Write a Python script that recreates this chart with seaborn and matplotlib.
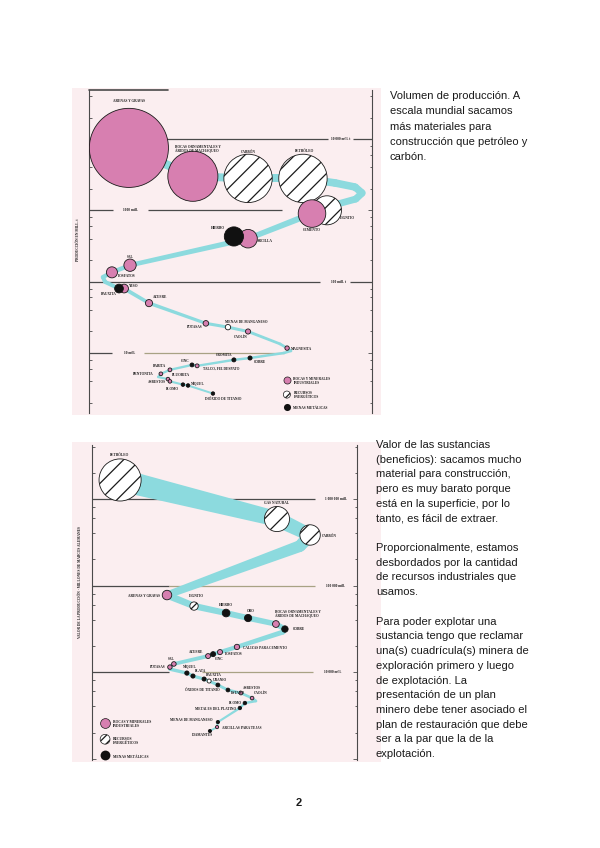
"""Página 2: volumen y valor de la producción minera mundial (dos paneles + texto)."""

import matplotlib
matplotlib.use("Agg")
import matplotlib.pyplot as plt
import numpy as np
import pandas as pd
import seaborn as sns
from matplotlib.ticker import LogLocator, NullFormatter

# ──────────────────────────────────────────────
# Datos – panel 1: volumen de producción (mill. t)
# ──────────────────────────────────────────────
p1_names = [
    "ARENAS Y GRAVAS", "ROCAS ORNAMENTALES Y\nÁRIDOS DE MACHAQUEO", "CARBÓN", "PETRÓLEO",
    "LIGNITO", "CEMENTO", "HIERRO", "ARCILLA", "SAL", "FOSFATOS", "BAUXITA", "YESO",
    "AZUFRE", "POTASAS", "MENAS DE MANGANESO", "CAOLÍN", "MAGNESITA", "COBRE", "CROMITA",
    "TALCO, FELDESPATO", "CINC", "BARITA", "BENTONITA", "FLUORITA", "ASBESTOS", "PLOMO",
    "NÍQUEL", "DIÓXIDO DE TITANIO",
]
p1_x = [14.1, 36.7, 56.2, 75.6, 84.1, 78.8, 51.2, 56.2, 14.5, 8.1, 10.6, 12.4, 21.2, 41.3,
        49.1, 56.2, 70.0, 56.9, 51.2, 38.2, 36.4, 28.6, 25.4, 27.9, 28.6, 33.2, 35.0, 43.8]
p1_value = [7500, 3000, 2800, 2800, 1000, 900, 430, 400, 170, 135, 80, 80, 50, 26, 23, 20,
            11.7, 8.5, 8.0, 6.6, 6.8, 5.8, 5.1, 4.3, 4.0, 3.6, 3.5, 2.7]
p1_group = ["R", "R", "E", "E", "E", "R", "M", "R", "R", "R", "M", "R", "R", "R", "E", "R",
            "R", "M", "M", "R", "M", "R", "R", "R", "R", "M", "M", "M"]

# recorrido de la banda (incluye los puntos de giro)
p1_track_x = [14.1, 36.7, 56.2, 75.6, 86.9, 94.0, 96.5, 94.3, 88.0, 84.1, 78.8, 56.2, 14.5,
              8.1, 4.9, 5.7, 10.6, 12.4, 21.2, 41.3, 49.1, 56.2, 67.5, 70.0, 71.4, 68.9,
              56.9, 51.2, 38.2, 36.4, 28.6, 25.4, 24.4, 27.9, 28.6, 33.2, 35.0, 43.8]
p1_track_value = [7500, 3000, 2800, 2800, 2420, 2120, 1750, 1440, 1230, 1000, 900, 400, 170,
                  135, 116, 99, 80, 80, 50, 26, 23, 20, 13.4, 11.7, 10.7, 10.0,
                  8.5, 8.0, 6.6, 6.8, 5.8, 5.1, 4.6, 4.3, 4.0, 3.6, 3.5, 2.7]

p1_levels = [10000, 1000, 100, 10]
p1_level_labels = ["10 000 mill. t", "1000 mill.", "100 mill. t", "10 mill."]

# ──────────────────────────────────────────────
# Datos – panel 2: valor de la producción (mill. DM)
# ──────────────────────────────────────────────
p2_names = [
    "PETRÓLEO", "GAS NATURAL", "CARBÓN", "ARENAS Y GRAVAS", "LIGNITO", "HIERRO", "ORO",
    "ROCAS ORNAMENTALES Y\nÁRIDOS DE MACHAQUEO", "COBRE", "CALIZAS PARA CEMENTO", "FOSFATOS",
    "CINC", "AZUFRE", "SAL", "POTASAS", "NÍQUEL", "PLATA", "BAUXITA", "URANIO",
    "ÓXIDOS DE TITANIO", "ESTAÑO", "ASBESTOS", "CAOLÍN", "PLOMO", "METALES DEL PLATINO",
    "MENAS DE MANGANESO", "ARCILLAS PARA TEJAS", "DIAMANTES",
]
p2_x = [10.6, 69.8, 82.3, 28.3, 38.5, 50.6, 58.9, 69.4, 72.8, 54.7, 48.3, 45.7, 43.8, 30.9,
        29.4, 35.8, 38.1, 42.3, 44.2, 47.5, 51.3, 56.2, 60.4, 57.7, 55.8, 47.5, 47.2, 44.5]
p2_value = [1.66e6, 5.87e5, 3.84e5, 7.76e4, 5.79e4, 4.81e4, 4.21e4, 3.59e4, 3.14e4, 1.95e4,
            1.70e4, 1.61e4, 1.53e4, 1.24e4, 1.14e4, 9730, 8990, 8300, 7870, 7080, 6200,
            5720, 5000, 4380, 3840, 2640, 2310, 2080]
p2_group = ["E", "E", "E", "R", "E", "M", "M", "R", "M", "R", "R", "M", "R", "R", "R", "M",
            "M", "M", "E", "M", "M", "R", "R", "M", "M", "M", "R", "M"]

p2_track_x = [10.6, 69.8, 82.3, 78.5, 28.3, 38.5, 50.6, 58.9, 69.4, 72.8, 72.1, 54.7, 48.3,
              45.7, 43.8, 30.9, 29.4, 29.4, 35.8, 38.1, 42.3, 44.2, 47.5, 51.3, 56.2, 60.4,
              61.9, 57.7, 55.8, 47.5, 47.2, 44.5]
p2_track_value = [1.66e6, 5.87e5, 3.84e5, 2.86e5, 7.76e4, 5.79e4, 4.81e4, 4.21e4, 3.59e4,
                  3.14e4, 2.90e4, 1.95e4, 1.70e4, 1.61e4, 1.53e4, 1.24e4, 1.14e4, 1.08e4,
                  9730, 8990, 8300, 7870, 7080, 6200, 5720, 5000, 4620, 4380, 3840, 2640,
                  2310, 2080]

p2_levels = [1e6, 1e5, 1e4]
p2_level_labels = ["1 000 000 mill.", "100 000 mill.", "10 000 mill."]

legend_labels = ["ROCAS Y MINERALES\nINDUSTRIALES", "RECURSOS\nENERGÉTICOS", "MENAS METÁLICAS"]

TEXT_1 = ("Volumen de producción. A\nescala mundial sacamos\nmás materiales para\n"
          "construcción que petróleo y\ncarbón.")
TEXT_2 = ("Valor de las sustancias\n(beneficios): sacamos mucho\nmaterial para construcción,\n"
          "pero es muy barato porque\nestá en la superficie, por lo\ntanto, es fácil de extraer.\n"
          "\nProporcionalmente, estamos\ndesbordados por la cantidad\nde recursos industriales que\n"
          "usamos.\n\nPara poder explotar una\nsustancia tengo que reclamar\n"
          "una(s) cuadrícula(s) minera de\nexploración primero y luego\nde explotación. La\n"
          "presentación de un plan\nminero debe tener asociado el\nplan de restauración que debe\n"
          "ser a la par que la de la\nexplotación.")

# ──────────────────────────────────────────────
# Estilo
# ──────────────────────────────────────────────
PINK = "#d77fb0"
PAPER = "#fbeef0"
BAND = "#8cdade"
DARK = "#4a4a4a"
OLIVE = "#a8a284"
PX = 72 / 100  # puntos por píxel (dpi = 100)
SMALL = dict(fontsize=2.5, fontweight="bold", family=["Liberation Serif", "DejaVu Serif"],
             color="#1a1a1a")

GROUP_STYLE = {
    "E": dict(color="white", edgecolor="#1a1a1a", linewidth=0.6, hatch="//", zorder=3),
    "R": dict(color=PINK, edgecolor="#1a1a1a", linewidth=0.6, zorder=4),
    "M": dict(color="#111111", edgecolor="#111111", linewidth=0.6, zorder=5),
}

# desplazamiento de etiquetas (px) y alineación
p1_label_pos = [(0, 47, "center"), (-18, 27, "left"), (0, 26, "center"), (2, 27, "center"),
                (13, -8, "left"), (0, -16, "center"), (-9, 8, "right"), (9, -2, "left"),
                (0, 8, "center"), (6, -4, "left"), (-2, -5, "right"), (5, 3, "left"),
                (4, 6, "left"), (-3, -4, "right"), (-3, 5, "left"), (-7, -6, "center"),
                (4, -1, "left"), (4, -4, "left"), (-2, 5, "right"), (6, -3, "left"),
                (-3, 4, "right"), (-4, 4, "right"), (-7, 0, "right"), (4, 4, "left"),
                (-4, -1, "right"), (-4, -4, "right"), (3, 1, "left"), (10, -5, "center")]
p2_label_pos = [(-1, 25, "center"), (0, 16, "center"), (12, -1, "left"), (-7, -1, "right"),
                (2, 10, "center"), (0, 8, "center"), (3, 7, "center"), (-1, 10, "left"),
                (8, 0, "left"), (6, -1, "left"), (5, -2, "left"), (2, -5, "left"),
                (-5, 4, "right"), (-3, 5, "center"), (-4, 0, "right"), (3, 6, "center"),
                (2, 5, "left"), (2, 4, "left"), (4, 1, "left"), (2, -5, "right"),
                (3, -3, "left"), (2, 5, "left"), (2, 5, "left"), (-3, 0, "right"),
                (-4, -1, "right"), (-5, 2, "right"), (5, -1, "left"), (-7, -4, "center")]


def setup_axes(ax, ylim):
    ax.set_facecolor("none")
    ax.set_yscale("log")
    ax.set_xlim(0, 100)
    ax.set_ylim(*ylim)
    ax.yaxis.set_major_locator(LogLocator(base=10))
    ax.yaxis.set_minor_locator(LogLocator(base=10, subs=(2, 4, 6, 8)))
    ax.yaxis.set_major_formatter(NullFormatter())
    ax.yaxis.set_minor_formatter(NullFormatter())
    ax.tick_params(axis="y", which="both", direction="in", left=True, right=True,
                   color=DARK, width=0.6)
    ax.tick_params(axis="y", which="major", length=3.2)
    ax.tick_params(axis="y", which="minor", length=1.8)
    ax.tick_params(axis="x", bottom=False, labelbottom=False)
    for side in ("top", "bottom"):
        ax.spines[side].set_visible(False)
    for side in ("left", "right"):
        ax.spines[side].set_color(DARK)
        ax.spines[side].set_linewidth(0.8)


def draw_levels(ax, levels, labels, segs, label_x):
    for lev, lab, seg, lx in zip(levels, labels, segs, label_x):
        for x0, x1, c in seg:
            ax.hlines(lev, x0, x1, color=c, lw=0.9, zorder=1)
        ax.text(lx, lev, lab, ha="center", va="center", zorder=1, **SMALL)


def draw_band(ax, xs, vals, k, p):
    """Banda de ancho variable (ancho en puntos = k * valor**p)."""
    vals = np.asarray(vals, dtype=float)
    w = k * vals ** p
    pts = ax.transData.transform(np.column_stack([xs, vals]))
    half = w / PX / 2
    inv = ax.transData.inverted()
    for i in range(len(xs) - 1):
        d = pts[i + 1] - pts[i]
        n = np.array([-d[1], d[0]]) / np.hypot(*d)
        quad = np.array([pts[i] + n * half[i], pts[i + 1] + n * half[i + 1],
                         pts[i + 1] - n * half[i + 1], pts[i] - n * half[i]])
        qx, qy = inv.transform(quad).T
        ax.fill(qx, qy, color=BAND, lw=0, zorder=2)
    ax.scatter(xs, vals, s=w ** 2, color=BAND, linewidths=0, zorder=2)


def draw_bubbles(ax, names, xs, values, groups, sizes, vmax, label_pos):
    df = pd.DataFrame({"name": names, "x": xs, "value": values, "group": groups})
    for g in ("E", "R", "M"):
        sub = df[df["group"] == g]
        sns.scatterplot(data=sub, x="x", y="value", size="value", sizes=sizes,
                        size_norm=(0, vmax), legend=False, ax=ax, **GROUP_STYLE[g])
    for (name, x, v), (dx, dy, ha) in zip(zip(names, xs, values), label_pos):
        ax.annotate(name, (x, v), xytext=(dx * PX, dy * PX), textcoords="offset points",
                    ha=ha, va="center", zorder=6, linespacing=1.0, **SMALL)


def draw_legend(ax, ms, anchor, fs, hh, ls, hl, pad):
    handles = [
        ax.scatter([], [], s=ms, color=PINK, edgecolor="#1a1a1a", linewidth=0.5),
        ax.scatter([], [], s=ms, color="white", edgecolor="#1a1a1a", linewidth=0.5, hatch="////"),
        ax.scatter([], [], s=ms, color="#111111", linewidth=0),
    ]
    leg = ax.legend(handles, legend_labels, loc="lower left", bbox_to_anchor=anchor,
                    frameon=False, scatterpoints=1, handleheight=hh, labelspacing=ls,
                    handlelength=hl, handletextpad=pad, borderpad=0, borderaxespad=0,
                    prop={"size": fs, "weight": "bold",
                          "family": ["Liberation Serif", "DejaVu Serif"]})
    for t in leg.get_texts():
        t.set_color("#1a1a1a")
        t.set_linespacing(1.0)


def add_panel(fig, bg_rect, ax_rect):
    bg = fig.add_axes(bg_rect)
    bg.set_facecolor(PAPER)
    bg.set_xticks([])
    bg.set_yticks([])
    for s in bg.spines.values():
        s.set_visible(False)
    return fig.add_axes(ax_rect)


sns.set_style("white")
plt.rcParams["font.family"] = ["Liberation Sans", "DejaVu Sans"]
plt.rcParams["hatch.linewidth"] = 0.9

fig = plt.figure(figsize=(6, 8.48), dpi=100)

# ── Panel 1 ──
ax1 = add_panel(fig, [0.12, 0.5106, 0.515, 0.3856], [0.14833, 0.51297, 0.47167, 0.38090])
setup_axes(ax1, (1.44, 48600))
draw_levels(ax1, p1_levels, p1_level_labels,
            [[(0, 84.5, DARK), (93.3, 100, DARK)],
             [(0, 8.5, DARK), (20.8, 68.2, DARK)],
             [(0, 81.6, DARK), (92.2, 100, DARK)],
             [(0, 8.1, DARK), (19.4, 68.9, OLIVE)]],
            [89.0, 14.5, 88.0, 14.5])
draw_band(ax1, p1_track_x, p1_track_value, k=1.16, p=0.2)
draw_bubbles(ax1, p1_names, p1_x, p1_value, p1_group, (5, 3241), 7500, p1_label_pos)
draw_legend(ax1, 26, (0.687, 0.009), 2.5, 1.8, 1.8, 2, 0.9)
ax1.set_xlabel("")
ax1.set_ylabel("PRODUCCIÓN EN MILL. t", **SMALL)
ax1.yaxis.set_label_coords(-0.032, 0.536)
ax1.plot([0, 0.28], [1, 1], transform=ax1.transAxes, color=DARK, lw=1.2, clip_on=False)
setup_axes(ax1, (1.44, 48600))

# ── Panel 2 ──
ax2 = add_panel(fig, [0.12, 0.1014, 0.515, 0.3774], [0.15333, 0.10377, 0.44167, 0.37146])
setup_axes(ax2, (962, 4.21e6))
draw_levels(ax2, p2_levels, p2_level_labels,
            [[(0, 27.5, DARK), (46.4, 84.2, DARK)],
             [(0, 29.1, DARK), (29.1, 84.2, OLIVE)],
             [(0, 29.1, DARK), (41.5, 83.4, OLIVE)]],
            [92.0, 92.0, 91.0])
draw_band(ax2, p2_track_x, p2_track_value, k=0.0778, p=0.373)
draw_bubbles(ax2, p2_names, p2_x, p2_value, p2_group, (4, 918), 1.66e6, p2_label_pos)
draw_legend(ax2, 50, (0.029, -0.004), 2.6, 3.0, 2.27, 3, 0.7)
ax2.set_xlabel("")
ax2.set_ylabel("VALOR DE LA PRODUCCIÓN · MILLONES DE MARCOS ALEMANES", **SMALL)
ax2.yaxis.set_label_coords(-0.038, 0.565)
setup_axes(ax2, (962, 4.21e6))

# ── Texto de la página ──
fig.text(390 / 600, 1 - 91 / 848, TEXT_1, ha="left", va="top", fontsize=8,
         linespacing=1.67, color="#1a1a1a")
fig.text(376 / 600, 1 - 440 / 848, TEXT_2, ha="left", va="top", fontsize=8,
         linespacing=1.59, color="#1a1a1a")
fig.text(0.4983, 1 - 803 / 848, "2", ha="center", va="center", fontsize=8,
         fontweight="bold", color="#1a1a1a")

fig.savefig("out.png", dpi=100)
